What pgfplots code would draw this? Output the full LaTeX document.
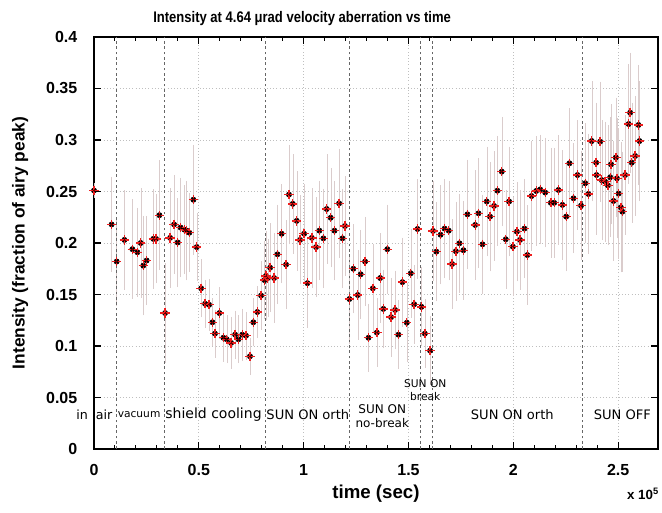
\documentclass[border=0pt]{standalone}
\usepackage{pgfplots}
\pgfplotsset{compat=1.18}
\usepackage{pgfplotstable}
\usepackage{fontspec}
\setmainfont{Liberation Sans}
\newfontfamily\dv{DejaVu Sans}
\newfontfamily\narrowbf[FakeStretch=0.85]{Liberation Sans Bold}
\definecolor{ebar}{RGB}{218,204,204}
\definecolor{mred}{RGB}{238,30,30}

\pgfplotstableread{
x y e
0.000 0.251 0.004
0.084 0.218 0.043
0.108 0.182 0.040
0.145 0.203 0.045
0.183 0.194 0.045
0.207 0.191 0.040
0.223 0.200 0.050
0.235 0.178 0.045
0.251 0.183 0.040
0.283 0.204 0.045
0.296 0.204 0.040
0.312 0.227 0.050
0.339 0.132 0.045
0.363 0.205 0.045
0.382 0.218 0.045
0.399 0.2005 0.040
0.413 0.215 0.045
0.431 0.213 0.040
0.442 0.212 0.045
0.455 0.210 0.035
0.474 0.242 0.050
0.490 0.196 0.030
0.511 0.156 0.025
0.530 0.141 0.020
0.549 0.140 0.022
0.565 0.123 0.020
0.577 0.112 0.020
0.598 0.132 0.022
0.617 0.108 0.020
0.633 0.1065 0.020
0.654 0.103 0.022
0.673 0.111 0.020
0.689 0.1065 0.020
0.707 0.111 0.022
0.725 0.110 0.020
0.744 0.090 0.015
0.760 0.123 0.020
0.779 0.133 0.022
0.797 0.149 0.030
0.813 0.164 0.035
0.820 0.168 0.040
0.829 0.166 0.035
0.840 0.176 0.040
0.859 0.166 0.040
0.875 0.189 0.045
0.895 0.209 0.045
0.916 0.179 0.040
0.930 0.247 0.045
0.948 0.238 0.045
0.967 0.2215 0.045
0.983 0.203 0.040
1.002 0.209 0.045
1.018 0.161 0.040
1.039 0.205 0.045
1.059 0.196 0.045
1.075 0.212 0.045
1.094 0.2045 0.045
1.110 0.233 0.050
1.129 0.2245 0.045
1.147 0.212 0.045
1.169 0.2385 0.050
1.185 0.2045 0.045
1.197 0.2165 0.045
1.218 0.1456 0.040
1.237 0.175 0.040
1.258 0.1495 0.040
1.272 0.1696 0.040
1.293 0.182 0.040
1.309 0.108 0.030
1.330 0.156 0.040
1.349 0.113 0.030
1.365 0.166 0.040
1.380 0.136 0.035
1.399 0.194 0.040
1.417 0.128 0.035
1.436 0.135 0.035
1.452 0.111 0.030
1.471 0.162 0.040
1.492 0.1226 0.035
1.511 0.1706 0.040
1.527 0.1405 0.035
1.543 0.2136 0.045
1.562 0.138 0.035
1.578 0.112 0.030
1.603 0.0955 0.030
1.617 0.2117 0.045
1.633 0.1916 0.045
1.653 0.208 0.045
1.672 0.214 0.045
1.692 0.212 0.045
1.708 0.1796 0.040
1.726 0.192 0.045
1.743 0.1997 0.045
1.762 0.193 0.045
1.781 0.2278 0.050
1.818 0.2175 0.050
1.834 0.2288 0.050
1.853 0.1987 0.045
1.873 0.2403 0.050
1.889 0.2256 0.050
1.908 0.236 0.050
1.924 0.2508 0.050
1.945 0.2693 0.050
1.964 0.2036 0.045
1.980 0.2403 0.050
1.998 0.1964 0.045
2.017 0.211 0.045
2.032 0.203 0.045
2.053 0.214 0.045
2.067 0.1883 0.045
2.087 0.2456 0.050
2.109 0.2505 0.050
2.128 0.252 0.050
2.152 0.249 0.050
2.179 0.239 0.050
2.195 0.239 0.050
2.215 0.2515 0.050
2.234 0.237 0.050
2.252 0.2256 0.050
2.268 0.2774 0.050
2.287 0.2434 0.050
2.306 0.266 0.050
2.323 0.2363 0.050
2.343 0.258 0.055
2.358 0.2476 0.055
2.374 0.299 0.055
2.395 0.278 0.055
2.397 0.266 0.055
2.414 0.2984 0.055
2.422 0.261 0.055
2.438 0.2595 0.055
2.451 0.256 0.055
2.462 0.2638 0.055
2.466 0.2764 0.055
2.478 0.2408 0.055
2.489 0.283 0.055
2.494 0.2628 0.055
2.502 0.248 0.060
2.513 0.2346 0.060
2.520 0.2304 0.055
2.533 0.266 0.055
2.550 0.3155 0.055
2.557 0.3265 0.055
2.565 0.278 0.055
2.581 0.2845 0.055
2.597 0.3146 0.055
2.602 0.299 0.055
}\data

\begin{document}
\begin{tikzpicture}
\begin{axis}[
  scale only axis, width=423pt, height=309pt,
  xmin=0, xmax=2.69, ymin=0, ymax=0.4,
  axis line style={black, line width=0.8pt},
  tick align=inside,
  xtick={0,0.5,1,1.5,2,2.5}, xticklabels={0,0.5,1,1.5,2,2.5},
  minor x tick num=4,
  ytick={0,0.05,0.1,0.15,0.2,0.25,0.3,0.35,0.4},
  yticklabels={0,0.05,0.1,0.15,0.2,0.25,0.3,0.35,0.4},
  grid=major, major grid style={gray!50, dotted, line width=0.5pt},
  major tick length=5pt, minor tick length=3pt,
  tick style={black, line width=0.8pt},
  ticklabel style={font=\bfseries\fontsize{12}{14}\selectfont},
  xticklabel style={yshift=-8pt},
  yticklabel style={xshift=-9pt},
  xlabel={time (sec)}, ylabel={Intensity (fraction of airy peak)},
  xlabel style={font=\bfseries\fontsize{14}{16}\selectfont, at={(axis description cs:0.5,-0.109)}, anchor=center},
  ylabel style={font=\bfseries\fontsize{13}{15}\selectfont, at={(axis description cs:-0.131,0.5)}, anchor=center},
  clip=false,
]
% error bars only
\addplot[only marks, mark=none, draw=none,
  error bars/.cd, y dir=both, y explicit,
  error bar style={ebar, line width=0.3pt, solid},
  error mark options={mark size=2.5pt, ebar, line width=0.3pt, solid}]
  table[x=x, y=y, y error=e] {\data};
% red crosses
\addplot[only marks, mark=+, mark size=3.5pt, line width=1pt,
  mark options={mred, solid}] table[x=x, y=y] {\data};
% small dark centres
\addplot[only marks, mark=+, mark size=1.1pt, line width=0.5pt,
  mark options={red!40!black, solid}] table[x=x, y=y] {\data};

\foreach \xv in {0.105,0.334,0.816,1.217,1.555,1.613,2.33}{
  \edef\tmp{\noexpand\draw[black!60, line width=0.7pt, dash pattern=on 2pt off 2pt] (axis cs:\xv,0) -- (axis cs:\xv,0.4);}\tmp
}

\node[font=\dv\fontsize{9.5}{11}\selectfont] at (axis cs:-0.057,0.033) {in};
\node[font=\dv\fontsize{9.5}{11}\selectfont] at (axis cs:0.048,0.033) {air};
\node[font=\dv\fontsize{8}{10}\selectfont] at (axis cs:0.215,0.033) {vacuum};
\node[font=\dv\fontsize{10.5}{12}\selectfont] at (axis cs:0.57,0.033) {shield cooling};
\node[font=\dv\fontsize{9.8}{11}\selectfont] at (axis cs:1.02,0.033) {SUN ON orth};
\node[font=\dv\fontsize{9}{10.5}\selectfont, align=center] at (axis cs:1.375,0.032) {SUN ON\\no-break};
\node[font=\dv\fontsize{8}{9.5}\selectfont, align=center] at (axis cs:1.58,0.057) {SUN ON\\break};
\node[font=\dv\fontsize{9.8}{11}\selectfont] at (axis cs:1.995,0.033) {SUN ON orth};
\node[font=\dv\fontsize{9.8}{11}\selectfont] at (axis cs:2.52,0.033) {SUN OFF};

\node[font=\narrowbf\fontsize{11.5}{13}\selectfont] at (axis description cs:0.369,1.046) {Intensity at 4.64 μrad velocity aberration vs time};
\node[font=\bfseries\fontsize{10}{12}\selectfont, anchor=east] at (axis description cs:1.01,-0.109) {x 10\textsuperscript{5}};
\end{axis}
\pgfresetboundingbox
\path[use as bounding box] (-70.5pt,-48pt) rectangle (426pt,336.75pt);
\end{tikzpicture}
\end{document}
